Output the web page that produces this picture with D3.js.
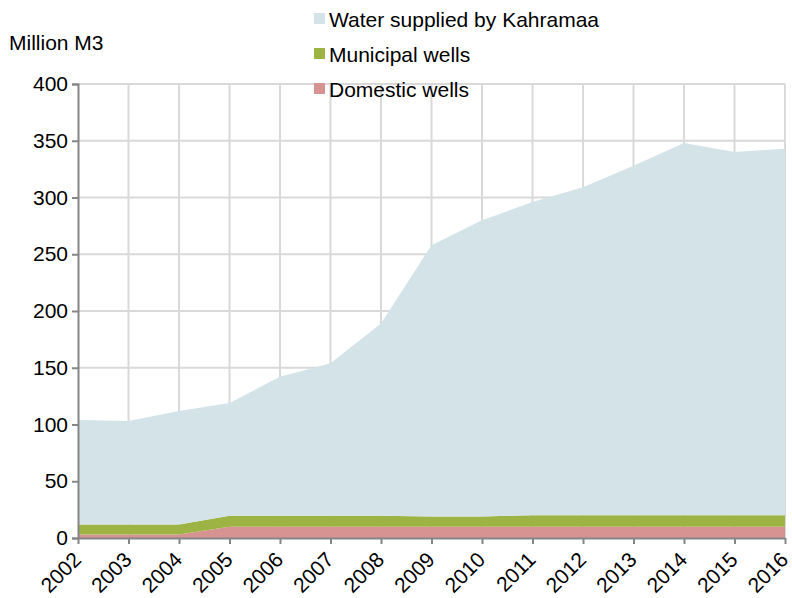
<!DOCTYPE html>
<html>
<head>
<meta charset="utf-8">
<script src="https://cdn.jsdelivr.net/npm/d3@7"></script>
<style>
  body { margin: 0; background: #fff; }
  text { font-family: "Liberation Sans", Arial, sans-serif; fill: #000; }
</style>
</head>
<body>
<div id="chart-area"></div>
<script>
// Data
var years = [2002, 2003, 2004, 2005, 2006, 2007, 2008, 2009, 2010, 2011, 2012, 2013, 2014, 2015, 2016];
var domesticWells = [3, 3, 3, 10, 10, 10, 10, 10, 10, 10, 10, 10, 10, 10, 10];
var municipalWells = [9, 9, 9, 9.5, 9.5, 9.5, 9.5, 9, 9, 10, 10, 10, 10, 10, 10];
var kahramaa = [92, 91, 100, 99.5, 122.5, 134.5, 169.5, 239, 261, 276, 289, 308, 328, 320, 323];
var yTicks = [0, 50, 100, 150, 200, 250, 300, 350, 400];

var seriesNames = ["Water supplied by Kahramaa", "Municipal wells", "Domestic wells"];
var seriesColors = { "Water supplied by Kahramaa": "#d3e3e8", "Municipal wells": "#9db343", "Domestic wells": "#d69392" };

var margin = { left: 78, right: 7, top: 84, bottom: 60 };
var width = 792 - margin.left - margin.right,
    height = 598 - margin.top - margin.bottom;

var svg = d3.select("#chart-area")
    .append("svg")
        .attr("width", 792)
        .attr("height", 598);

var g = svg.append("g")
    .attr("transform", "translate(" + margin.left + "," + margin.top + ")");

// Scales
var x = d3.scaleLinear()
    .domain([years[0], years[years.length - 1]])
    .range([0, width]);
var y = d3.scaleLinear()
    .domain([0, 400])
    .range([height, 0]);

// Grid
g.selectAll(".vgrid").data(years.slice(1)).enter().append("line")
    .attr("x1", function(d){ return x(d); })
    .attr("x2", function(d){ return x(d); })
    .attr("y1", 0).attr("y2", height)
    .attr("stroke", "#d9d9d9").attr("stroke-width", 2);
g.selectAll(".hgrid").data(yTicks.slice(1)).enter().append("line")
    .attr("x1", 0).attr("x2", width)
    .attr("y1", function(d){ return y(d); })
    .attr("y2", function(d){ return y(d); })
    .attr("stroke", "#d9d9d9").attr("stroke-width", 2);

// Stack
var table = years.map(function(yr, i){
    return {
        year: yr,
        "Domestic wells": domesticWells[i],
        "Municipal wells": municipalWells[i],
        "Water supplied by Kahramaa": kahramaa[i]
    };
});
var stack = d3.stack().keys(["Domestic wells", "Municipal wells", "Water supplied by Kahramaa"]);
var layers = stack(table);

var area = d3.area()
    .x(function(d){ return x(d.data.year); })
    .y0(function(d){ return y(d[0]); })
    .y1(function(d){ return y(d[1]); });

g.selectAll(".layer").data(layers).enter().append("path")
    .attr("d", area)
    .attr("fill", function(d){ return seriesColors[d.key]; });

// Y Axis
var yAxisCall = d3.axisLeft(y)
    .tickValues(yTicks)
    .tickSize(6)
    .tickPadding(4);
var yAxis = g.append("g").call(yAxisCall);
yAxis.select(".domain").attr("stroke", "#868686").attr("stroke-width", 2);
yAxis.selectAll(".tick line").attr("stroke", "#868686").attr("stroke-width", 2);
yAxis.selectAll(".tick text")
    .attr("font-size", "21px")
    .attr("font-family", "Liberation Sans, Arial, sans-serif");

// X Axis
var xAxisCall = d3.axisBottom(x)
    .tickValues(years)
    .tickFormat(d3.format("d"))
    .tickSize(6)
    .tickSizeOuter(0);
var xAxis = g.append("g")
    .attr("transform", "translate(0," + height + ")")
    .call(xAxisCall);
xAxis.select(".domain").attr("stroke", "#868686").attr("stroke-width", 2);
xAxis.selectAll(".tick line").attr("stroke", "#868686").attr("stroke-width", 2);
xAxis.selectAll(".tick text")
    .attr("font-size", "21px")
    .attr("font-family", "Liberation Sans, Arial, sans-serif")
    .attr("text-anchor", "end")
    .attr("dy", null)
    .attr("y", 0)
    .attr("transform", "translate(4,23) rotate(-45)");

// Y label
svg.append("text")
    .attr("x", 9)
    .attr("y", 50)
    .attr("font-size", "21px")
    .text("Million M3");

// Legend
var legend = svg.append("g")
    .attr("transform", "translate(314, 13)");
seriesNames.forEach(function(name, i){
    var row = legend.append("g")
        .attr("transform", "translate(0," + (i * 35) + ")");
    row.append("rect")
        .attr("width", 11)
        .attr("height", 11)
        .attr("fill", seriesColors[name]);
    row.append("text")
        .attr("x", 15)
        .attr("y", 13.5)
        .attr("font-size", "21px")
        .text(name);
});
</script>
</body>
</html>
